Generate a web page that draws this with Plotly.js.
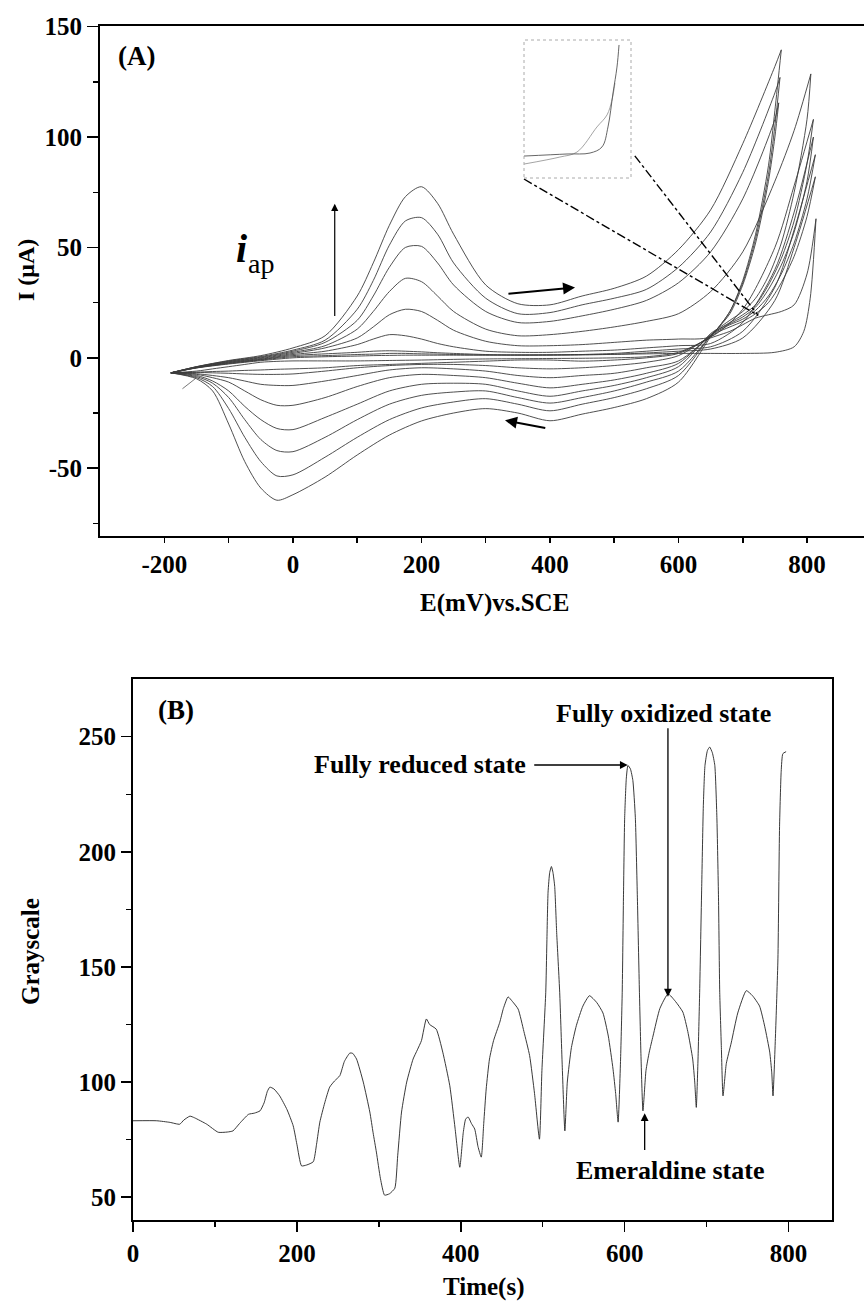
<!DOCTYPE html>
<html>
<head>
<meta charset="utf-8">
<script src="https://cdn.plot.ly/plotly-3.0.1.min.js"></script>
<style>html,body{margin:0;padding:0;background:#fff;}#chart{width:864px;height:1301px;}</style>
</head>
<body>
<div id="chart"></div>
<script>
// ---------- Panel A: cyclic voltammograms (E in mV, I in uA) ----------
const fwdE = [-190,-150,-100,-50,0,50,100,125,150,175,200,225,250,300,350,400,450,500,550,600,650,700,750];
const fwdI1 = [-6.8,-4.6,-2.8,-1.3,0,0.5,0.8,1,1.1,1.2,1.2,1.2,1.2,1.2,1.3,1.4,1.5,1.6,1.8,2,2,2,2.5];
const fwdI2 = [-6.8,-4.5,-2.6,-1,0.5,1,1.5,1.7,2,2,1.8,1.7,1.5,1.3,1.2,1.2,1.3,1.6,2.2,3,4,9,26];
const fwdI3 = [-6.8,-4.5,-2.4,-0.8,1,1.8,2.5,3,3.2,3,2.7,2.3,2,1.5,1.3,1.3,1.5,2,3,4,5,12,32];
const fwdI4 = [-6.8,-4.4,-2.2,-0.6,1.5,3,6,8.5,10.5,10,8.5,6.5,5,3,2.5,2.5,3,3.5,4.5,5.5,6.5,16,40];
const fwdI5 = [-6.8,-4.3,-2,-0.3,2,4.5,9,14,19.5,22,21,17,12.5,7.5,5.5,5.5,6,7,8,8.5,9.5,22,50];
const fwdI6 = [-6.8,-4.2,-1.8,0,2.5,5.5,13,21,30,36,34.5,28,21,13,10,10.5,12,14,16.5,20,30,48,80];
const fwdI7 = [-6.8,-4.1,-1.6,0.3,3,7,17,28,41,50,50.5,43,33,21,16,16.5,19,22,26,34,48,72,108];
const fwdI8 = [-6.8,-4,-1.4,0.6,3.5,8,22,35,51,62,63.5,56,43,27,20,20.5,24,27,31,41,57,84,120];
const fwdI9 = [-6.8,-4,-1.2,1.0,4.5,10,28,43,60,73,77.5,70,56,33,24.5,24,28,31.5,37,49,67,97,132];

// forward end points beyond 750 mV (up to the switching potential)
const tailE1 = [780,795,805,814], tailI1 = [5,12,27,63];
const tailE2 = [780,813], tailI2 = [50,82];
const tailE3 = [780,813], tailI3 = [58,92];
const tailE4 = [780,810], tailI4 = [66,100];
const tailE5 = [780,810], tailI5 = [78,108];
const tailE6 = [780,806], tailI6 = [103,128.6];
const tailE7 = [756], tailI7 = [115.5];
const tailE8 = [758], tailI8 = [127];
const tailE9 = [760], tailI9 = [139.5];

// reverse sweep: start (switching potential down to 720 mV)
const headE1 = [814,800,780,760,740,720], headI1 = [63,38,24,21,19.5,18];
const headE2 = [813,800,780,760,740,720], headI2 = [82,64,46,34,25,20];
const headE3 = [813,800,780,760,740,720], headI3 = [92,72,52,38,28,21.5];
const headE4 = [810,800,780,760,740,720], headI4 = [100,80,57,42,31,23];
const headE5 = [810,800,780,760,740,720], headI5 = [108,88,62,45,33,24];
const headE6 = [806,800,780,760,740,720], headI6 = [128.6,108,75,52,37,27];
const headE7 = [756,750,740,720], headI7 = [115.5,100,80,52];
const headE8 = [758,750,740,720], headI8 = [127,105,83,54];
const headE9 = [760,750,740,720], headI9 = [139.5,112,87,56];

// reverse sweep: common part
const revE = [700,680,660,650,600,550,500,450,400,350,300,250,200,150,100,50,0,-25,-50,-75,-100,-125,-150,-190];
const revI1 = [15,12,10,9,2.5,0.5,0,-0.2,-0.3,-0.4,-0.5,-0.7,-1,-1.2,-1.4,-1.4,-1.4,-1.6,-2,-3,-4,-5,-6,-6.8];
const revI2 = [16.5,14,11.5,9.5,2,0,-1,-1.5,-1,-1,-1.5,-2,-2.5,-3,-3.5,-4.5,-5,-5.2,-5.5,-5.7,-6,-6.2,-6.5,-6.8];
const revI3 = [17.5,15,12,10,1,-2,-3.5,-4.5,-5,-4.5,-3.5,-3,-3,-3.5,-4.5,-6,-7.3,-7.5,-7.5,-7.3,-7,-6.8,-6.6,-6.8];
const revI4 = [18.5,15.5,12.5,10,-1.4,-4.5,-7,-8,-9,-8,-6,-5,-4.5,-5.5,-8,-10.5,-12.5,-12.5,-12,-10.5,-9,-8,-7.2,-6.8];
const revI5 = [19.5,16,12.5,10.5,-2.5,-7,-10,-12,-13.6,-11.5,-9,-8,-7.5,-9,-13,-18,-21.5,-21.5,-19,-15,-11,-9,-7.5,-6.8];
const revI6 = [21,17,13,11,-4,-9,-12.5,-15,-17.4,-15,-12,-11.5,-12,-15,-21,-27,-32.5,-32,-28,-22,-15,-10.5,-8,-6.8];
const revI7 = [33,20,13,10,-6,-11,-15,-18,-20.5,-18,-15,-15.5,-17,-21,-28,-36,-42.5,-42,-37,-28,-18,-11.5,-8.5,-6.8];
const revI8 = [34,21,13,10,-8,-14,-18,-21,-24,-21,-18.5,-20,-22.7,-28,-36,-45,-53,-53.5,-47,-36,-23,-13,-9,-6.8];
const revI9 = [35,21,13,9.5,-11,-18.5,-22.5,-25.5,-28.5,-25,-23,-25,-28.6,-35,-44,-54,-62,-64.5,-59,-47,-30,-15,-9.5,-6.8];

// very first start of the scan
const startE = [-172,-150], startI = [-14,-9];

// inset (zoomed nucleation region, arbitrary inset units)
const insetDarkU = [0,40.2,61.7,72.9,78.5,83.2,86.9,88.8];
const insetDarkV = [15.9,17.4,18.1,22.5,37,61.6,80.4,96.4];
const insetLightU = [0,33.6,49.5,68.2,77.6,82.2,85];
const insetLightV = [10.1,15.2,18.8,37,45.7,56.5,68.8];

// ---------- Panel B: grayscale vs time ----------
const timeS = [0,29,45,57,62,69.5,75,90,104,115,122,130,141,148,155,160,164,167,172,179,188,195.5,200,205.7,212,220,224,228,234,240,246,252.4,258,264.6,268,272.8,281,289,293,297,302,307,313,319.5,323,327.7,334,341.8,347,352,358,362,370,378,386.6,393,398.8,403,406,409,413,417,421,425,428,431,435,440,447.6,452,457.7,463,470,477,484,490,496,499,503.7,505,506.5,508.5,510.6,512.5,514.6,517,520.7,524,527,530,535,541,549,557,566,573.5,580,585.8,589,592,595,597,598.5,600,602,604,607,610,613,615.5,618,620,622.3,626,630,634.6,643,653,662,671,677,683,685.5,687.4,689.5,691.5,694,696,698,701,703.7,707,710,712.5,714.5,716,718,720,724,730,738,748.4,756,764.6,771,777,779.5,781,784,787,789,791,793,797];
const gray = [83.2,83.2,82.5,81.7,83.5,85.2,84.5,81.7,78.2,78.3,78.8,82,86,86.5,87.5,91,96,97.8,97,94,88,81,73,63.6,64,65.4,73,82.6,91,97.8,100.5,102.8,109,112.6,112.5,110,100,87,78,69.6,58,50.9,51.5,53.9,68,87,100,110,114,118,127.4,125,123,113,98.4,80,63,78,84,84.8,82,79.6,72,67.4,82,97,110,118,126,132,137,135,131.7,122,111.5,95,75.2,105,139,160,182.5,191,193.6,191,185,165,139,105,78.8,100,115,124.5,133,137.5,134.5,130,120,105.6,95,82.6,110,139,180,215,232,237.5,236,231,215,180,139,110,87.5,105,113,120,132,138.3,135,130.4,122,110,100,89,110,139,185,220,237.5,244,245.5,243,237.5,215,180,139,115,94,108,117,130,139.7,137.5,133,124,113,104,94,120,153.5,211,235,242.6,243.5];

// ---------- axis ticks ----------
const xTicksA = [-200,0,200,400,600,800], xTickTextA = ['-200','0','200','400','600','800'];
const xMinorA = [-100,100,300,500,700];
const yTicksA = [-50,0,50,100,150], yTickTextA = ['-50','0','50','100','150'];
const yMinorA = [-75,-25,25,75,125];
const xTicksB = [0,200,400,600,800], xMinorB = [100,300,500,700];
const yTicksB = [50,100,150,200,250], yMinorB = [75,125,175,225];

// ---------- build traces ----------
const FAM = 'Liberation Serif, Times New Roman, serif';
const cvColor = '#3c3c3c';
const cycles = [
  [fwdI1,tailE1,tailI1,headE1,headI1,revI1],
  [fwdI2,tailE2,tailI2,headE2,headI2,revI2],
  [fwdI3,tailE3,tailI3,headE3,headI3,revI3],
  [fwdI4,tailE4,tailI4,headE4,headI4,revI4],
  [fwdI5,tailE5,tailI5,headE5,headI5,revI5],
  [fwdI6,tailE6,tailI6,headE6,headI6,revI6],
  [fwdI7,tailE7,tailI7,headE7,headI7,revI7],
  [fwdI8,tailE8,tailI8,headE8,headI8,revI8],
  [fwdI9,tailE9,tailI9,headE9,headI9,revI9]
];
const traces = [];
const cvLine = {color: cvColor, width: 0.9, shape: 'spline', smoothing: 0.8};
cycles.forEach(c => {
  traces.push({x: fwdE.concat(c[1]), y: c[0].concat(c[2]), type:'scatter', mode:'lines', line: cvLine, xaxis:'x', yaxis:'y', hoverinfo:'skip'});
  traces.push({x: c[3].concat(revE), y: c[4].concat(c[5]), type:'scatter', mode:'lines', line: cvLine, xaxis:'x', yaxis:'y', hoverinfo:'skip'});
});
traces.push({x: startE, y: startI, type:'scatter', mode:'lines', line:{color:'#555', width:0.8}, xaxis:'x', yaxis:'y'});
traces.push({x: insetLightU, y: insetLightV, type:'scatter', mode:'lines', line:{color:'#9a9a9a', width:0.9, shape:'spline'}, xaxis:'x3', yaxis:'y3'});
traces.push({x: insetDarkU, y: insetDarkV, type:'scatter', mode:'lines', line:{color:'#555', width:0.9, shape:'spline'}, xaxis:'x3', yaxis:'y3'});
traces.push({x: timeS, y: gray, type:'scatter', mode:'lines', line:{color:'#222', width:0.9, shape:'spline', smoothing:0.5}, xaxis:'x2', yaxis:'y2'});

// ---------- layout ----------
const W = 864, H = 1301;
const px = v => v / W, py = v => 1 - v / H;
const tickFont = {family: FAM, size: 25, color: '#000', weight: 'bold'};
const axBase = {showgrid:false, zeroline:false, showline:true, linecolor:'#000', linewidth:2,
  ticks:'outside', tickcolor:'#000', tickwidth:1.5, tickfont: tickFont, tickmode:'array'};

const annFont = (s, extra) => Object.assign({family: FAM, size: s, color:'#000', weight:'bold'}, extra || {});
const txt = (text, x, y, size, extra) => Object.assign({text:text, x:px(x), y:py(y), xref:'paper', yref:'paper',
  xanchor:'center', yanchor:'middle', showarrow:false, font:annFont(size)}, extra || {});
const arrow = (ax, ay, x, y, xr, yr, w) => ({text:'', x:x, y:y, ax:ax, ay:ay, xref:xr, yref:yr, axref:xr, ayref:yr,
  showarrow:true, arrowhead:2, arrowsize:1.2, arrowwidth:w, arrowcolor:'#000'});

const annotations = [
  txt('(A)', 136, 56, 27),
  txt('(B)', 176, 710, 27),
  txt('<b><i>i</i></b>', 241, 249, 40),
  txt('ap', 261, 263, 28, {font:{family:FAM, size:28, color:'#000'}}),
  txt('E(mV)vs.SCE', 495, 603, 25),
  txt('I (μA)', 26, 270, 24, {textangle:-90}),
  txt('Time(s)', 483, 1287, 25),
  txt('Grayscale', 30, 952, 25, {textangle:-90}),
  txt('Fully reduced state', 420, 764, 26),
  txt('Fully oxidized state', 663, 713, 26),
  txt('Emeraldine state', 670, 1170, 26),
  // arrows panel A
  arrow(65, 18.3, 65, 69.8, 'x', 'y', 1.2),
  arrow(333, 29, 439, 31.9, 'x', 'y', 2),
  arrow(395, -31.9, 330, -28.3, 'x', 'y', 2),
  // arrows panel B
  arrow(487.8, 237.7, 603.7, 237.7, 'x2', 'y2', 1.3),
  arrow(652.8, 254.3, 652.8, 137.1, 'x2', 'y2', 1.3),
  arrow(624.4, 69.8, 624.4, 86.5, 'x2', 'y2', 1.3)
];

const shapes = [
  {type:'line', xref:'x', yref:'y', x0:359.5, y0:81, x1:724, y1:19.2, line:{color:'#000', width:1.4, dash:'dashdot'}},
  {type:'line', xref:'x', yref:'y', x0:532, y0:91.5, x1:724, y1:19.2, line:{color:'#000', width:1.4, dash:'dashdot'}},
  {type:'rect', xref:'x3 domain', yref:'y3 domain', x0:0, x1:1, y0:0, y1:1, line:{color:'#aaa', width:1, dash:'dot'}}
];

const minorCfg = v => ({tickmode:'array', tickvals:v, ticks:'outside', ticklen:5, tickwidth:1.5, tickcolor:'#000', showgrid:false});
const layout = {
  width: W, height: H, margin:{l:0, r:0, t:0, b:0},
  paper_bgcolor:'#fff', plot_bgcolor:'#fff', showlegend:false,
  font:{family: FAM, color:'#000'},
  xaxis: Object.assign({}, axBase, {domain:[px(100), 1], range:[-300.3, 888.7], anchor:'y', mirror:true,
    tickvals:xTicksA, ticktext:xTickTextA, ticklen:5, minor:minorCfg(xMinorA)}),
  yaxis: Object.assign({}, axBase, {domain:[py(536), py(26)], range:[-80.7, 150.3], anchor:'x',
    tickvals:yTicksA, ticktext:yTickTextA, ticklen:11, minor:minorCfg(yMinorA)}),
  xaxis2: Object.assign({}, axBase, {domain:[px(133), px(832)], range:[0, 853], anchor:'y2', mirror:true,
    tickvals:xTicksB, ticklen:10, minor:minorCfg(xMinorB)}),
  yaxis2: Object.assign({}, axBase, {domain:[py(1220), py(679)], range:[40.1, 275.05], anchor:'x2', mirror:true,
    tickvals:yTicksB, ticklen:10, minor:minorCfg(yMinorB)}),
  xaxis3: {domain:[px(524), px(631)], range:[0,100], anchor:'y3', visible:false, fixedrange:true},
  yaxis3: {domain:[py(178), py(40)], range:[0,100], anchor:'x3', visible:false, fixedrange:true},
  annotations: annotations,
  shapes: shapes
};

Plotly.newPlot('chart', traces, layout, {staticPlot:true, displayModeBar:false});
</script>
</body>
</html>
